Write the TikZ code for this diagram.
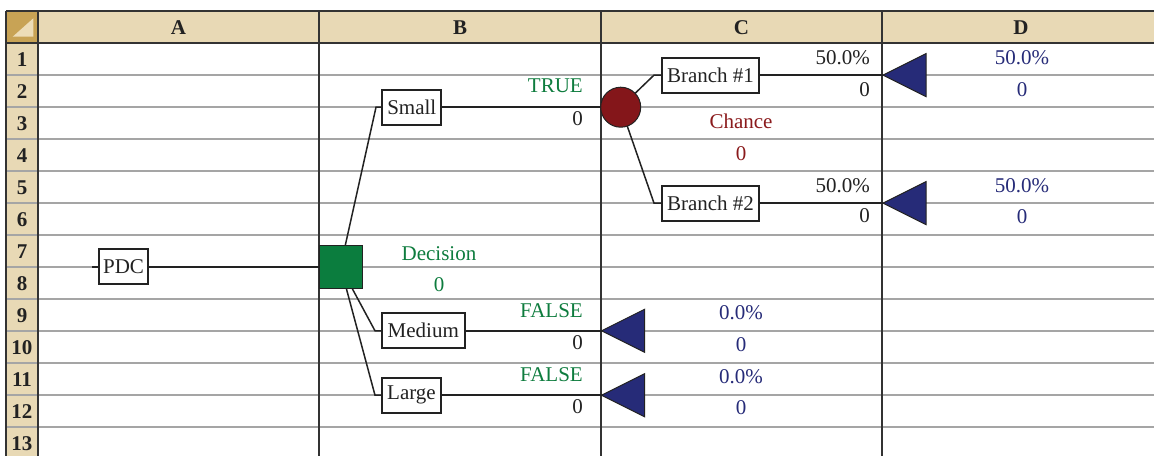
\documentclass[tikz,border=0pt]{standalone}
\usepackage{fontspec}
\setmainfont{Liberation Serif}
\definecolor{hdr}{HTML}{E8D9B5}
\definecolor{corner}{HTML}{C8A355}
\definecolor{cornertri}{HTML}{EDDDB8}
\definecolor{gridgray}{HTML}{A5A5A5}
\definecolor{gridline}{HTML}{333333}
\definecolor{dgreen}{HTML}{0E7C3E}
\definecolor{sqgreen}{HTML}{0B7D3E}
\definecolor{dred}{HTML}{8A1A1C}
\definecolor{circred}{HTML}{84161A}
\definecolor{navy}{HTML}{262B78}
\definecolor{ink}{HTML}{222222}
\pgfdeclarelayer{gridlayer}
\pgfdeclarelayer{wirelayer}
\pgfsetlayers{gridlayer,wirelayer,main}
\begin{document}
\begin{tikzpicture}[x=1pt,y=-1pt,
  lbl/.style={draw=ink, line width=1.8pt, fill=white, inner sep=0pt, minimum height=35pt,
              font=\fontsize{21}{25}\selectfont, text=ink},
  val/.style={font=\fontsize{21}{25}\selectfont, inner sep=0pt},
  hd/.style={font=\bfseries\fontsize{21}{24}\selectfont, text=ink, inner sep=0pt, anchor=base},
  wire/.style={draw=ink, line width=1.5pt},
  termtri/.style={fill=navy, draw=ink, line width=1pt},
  dgrid/.style={draw=gridline, line width=2pt},
  lgrid/.style={draw=gridgray, line width=1.7pt}]
\useasboundingbox (0,0) rectangle (1154,456);

% ---------- tree nodes ----------
\node[lbl, minimum width=49pt] (pdc) at (123.5,266.8) {PDC};
\node[draw=ink, line width=1pt, fill=sqgreen, minimum size=43pt, inner sep=0pt] (dec) at (340.5,266.8) {};
\node[lbl, minimum width=59pt] (small) at (411.8,107.2) {Small};
\node[lbl, minimum width=83pt] (medium) at (423.3,330.8) {Medium};
\node[lbl, minimum width=59pt] (large) at (411.5,395.2) {Large};
\node[circle, draw=ink, line width=1pt, fill=circred, minimum size=40pt, inner sep=0pt] (chance) at (620.7,107.2) {};
\node[lbl, minimum width=97pt] (br1) at (710.5,75.1) {Branch \#1};
\node[lbl, minimum width=97pt] (br2) at (710.5,203.1) {Branch \#2};

% terminal triangles (tips)
\coordinate (t1) at (883,75.1);
\coordinate (t2) at (883,203.1);
\coordinate (t3) at (601.5,330.8);
\coordinate (t4) at (601.5,395.2);
\foreach \t in {t1,t2,t3,t4}{
  \draw[termtri] (\t) -- ++(43,-21.5) -- ++(0,43) -- cycle;
}

% stub coordinates
\coordinate (pdcin) at (92,266.8);
\coordinate (smallk) at (376,107.2);
\coordinate (mediumk) at (375,330.8);
\coordinate (largek) at (375,395.2);
\coordinate (br1k) at (654,75.1);
\coordinate (br2k) at (654,203.1);

% ---------- value texts ----------
\node[val, text=dgreen, anchor=base east] (trueL) at (583,92.5) {TRUE};
\node[val, text=ink, anchor=base east] (smallv) at (583,125) {0};
\node[val, text=dred, anchor=base] (chanceL) at (741,128.5) {Chance};
\node[val, text=dred, anchor=base] (chancev) at (741,160) {0};
\node[val, text=dgreen, anchor=base] (decL) at (439,260) {Decision};
\node[val, text=dgreen, anchor=base] (decv) at (439,291) {0};

\node[val, text=ink, anchor=base east] (p1) at (870,64) {50.0\%};
\node[val, text=ink, anchor=base east] (v1) at (870,96) {0};
\node[val, text=navy, anchor=base] (q1) at (1022,64.5) {50.0\%};
\node[val, text=navy, anchor=base] (w1) at (1022,96.5) {0};

\node[val, text=ink, anchor=base east] (p2) at (870,192) {50.0\%};
\node[val, text=ink, anchor=base east] (v2) at (870,222.5) {0};
\node[val, text=navy, anchor=base] (q2) at (1022,192.5) {50.0\%};
\node[val, text=navy, anchor=base] (w2) at (1022,223) {0};

\node[val, text=dgreen, anchor=base east] (f3) at (583,317) {FALSE};
\node[val, text=ink, anchor=base east] (v3) at (583,349.5) {0};
\node[val, text=navy, anchor=base] (q3) at (741,319) {0.0\%};
\node[val, text=navy, anchor=base] (w3) at (741,351.5) {0};

\node[val, text=dgreen, anchor=base east] (f4) at (583,381) {FALSE};
\node[val, text=ink, anchor=base east] (v4) at (583,413.5) {0};
\node[val, text=navy, anchor=base] (q4) at (741,383) {0.0\%};
\node[val, text=navy, anchor=base] (w4) at (741,414.5) {0};

% ---------- headers ----------
\node[hd] (hA) at (178.5,34.5) {A};
\node[hd] (hB) at (460,34.5) {B};
\node[hd] (hC) at (741.5,34.5) {C};
\node[hd] (hD) at (1021,34.5) {D};
\foreach \r in {1,...,13}{
  \node[hd] (row\r) at (22,{59+32*(\r-1)+7}) {\r};
}

% ---------- connectors ----------
\begin{pgfonlayer}{wirelayer}
  \draw[wire] (pdcin) -- (pdc.west);
  \draw[wire] (pdc.east) -- (dec.center);
  \draw[wire] (dec.center) -- (smallk) -- (small.west);
  \draw[wire] (dec.center) -- (mediumk) -- (medium.west);
  \draw[wire] (dec.center) -- (largek) -- (large.west);
  \draw[wire] (small.east) -- (chance.center);
  \draw[wire] (chance.center) -- (br1k) -- (br1.west);
  \draw[wire] (chance.center) -- (br2k) -- (br2.west);
  \draw[wire] (br1.east) -- (t1);
  \draw[wire] (br2.east) -- (t2);
  \draw[wire] (medium.east) -- (t3);
  \draw[wire] (large.east) -- (t4);
\end{pgfonlayer}

% ---------- spreadsheet grid ----------
\begin{pgfonlayer}{gridlayer}
  \fill[hdr] (6,11) rectangle (1154,43);
  \fill[hdr] (6,43) rectangle (38,456);
  \fill[corner] (6,11) rectangle (38,43);
  \fill[cornertri] (12.7,36.7) -- (33.3,36.7) -- (33.3,18.3) -- cycle;
  \foreach \r in {1,...,12}{
    \draw[lgrid] (6,{43+32*\r}) -- (1154,{43+32*\r});
  }
  \draw[dgrid] (6,11) -- (1154,11);
  \draw[dgrid] (6,43) -- (1154,43);
  \foreach \x in {6,38,319,601,882}{
    \draw[dgrid] (\x,11) -- (\x,456);
  }
\end{pgfonlayer}
\end{tikzpicture}
\end{document}
